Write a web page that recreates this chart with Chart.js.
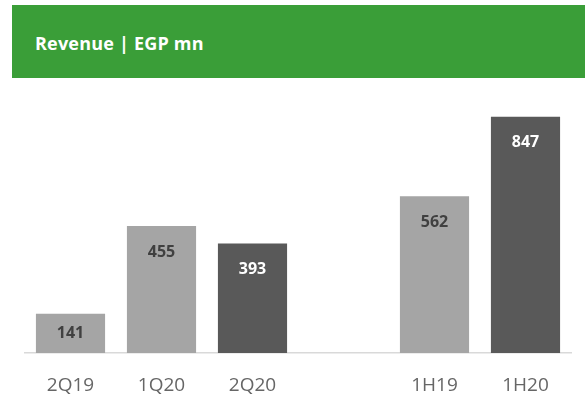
<!DOCTYPE html>
<html>
<head>
<meta charset="utf-8">
<script src="https://cdn.jsdelivr.net/npm/chart.js@4"></script>
<style>
  html,body{margin:0;padding:0;background:#fff;width:585px;height:394px;overflow:hidden;}
  #band{position:absolute;left:12px;top:5px;width:573px;height:73px;background:#3A9E38;}
  #title{position:absolute;left:23px;top:26px;color:#fff;font:bold 18px "Open Sans",sans-serif;white-space:nowrap;letter-spacing:0.2px;}
  #wrap{position:absolute;left:0;top:0;width:585px;height:394px;}
</style>
</head>
<body>
<div id="band"><div id="title">Revenue | EGP mn</div></div>
<div id="wrap"><canvas id="c" width="585" height="394"></canvas></div>
<script>
const categories = ['2Q19', '1Q20', '2Q20', '', '1H19', '1H20'];
const revenue = [141, 455, 393, null, 562, 847];
const barColors = ['#A5A5A5', '#A5A5A5', '#595959', '#FFFFFF', '#A5A5A5', '#595959'];
const labelColors = ['#404040', '#404040', '#FFFFFF', '#FFFFFF', '#404040', '#FFFFFF'];

const valueLabels = {
  id: 'valueLabels',
  afterDatasetsDraw(chart) {
    const ctx = chart.ctx;
    const meta = chart.getDatasetMeta(0);
    ctx.save();
    ctx.font = 'bold 16px "Open Sans", sans-serif';
    ctx.textAlign = 'center';
    ctx.textBaseline = 'middle';
    meta.data.forEach((bar, i) => {
      const v = revenue[i];
      if (v === null) return;
      const top = bar.y, bottom = bar.base;
      const y = Math.min(top + 26, (top + bottom) / 2);
      ctx.fillStyle = labelColors[i];
      ctx.fillText(String(v), bar.x, y);
    });
    ctx.restore();
  }
};

new Chart(document.getElementById('c'), {
  type: 'bar',
  data: {
    labels: categories,
    datasets: [{
      data: revenue,
      backgroundColor: barColors,
      borderWidth: 0,
      categoryPercentage: 1,
      barPercentage: 0.76
    }]
  },
  options: {
    responsive: false,
    animation: false,
    events: [],
    layout: { padding: { left: 25, right: 14, top: 102, bottom: 0 } },
    plugins: { legend: { display: false }, tooltip: { enabled: false } },
    scales: {
      x: {
        grid: { display: false, drawTicks: false },
        border: { display: true, color: '#D9D9D9', width: 1.5 },
        ticks: { color: '#666666', font: { family: '"Open Sans", sans-serif', size: 19, weight: '400' }, padding: 21, maxRotation: 0, autoSkip: false },
        afterFit(scale) { scale.height = 41; }
      },
      y: {
        display: false,
        min: 0,
        max: 900
      }
    }
  },
  plugins: [valueLabels]
});
</script>
</body>
</html>
